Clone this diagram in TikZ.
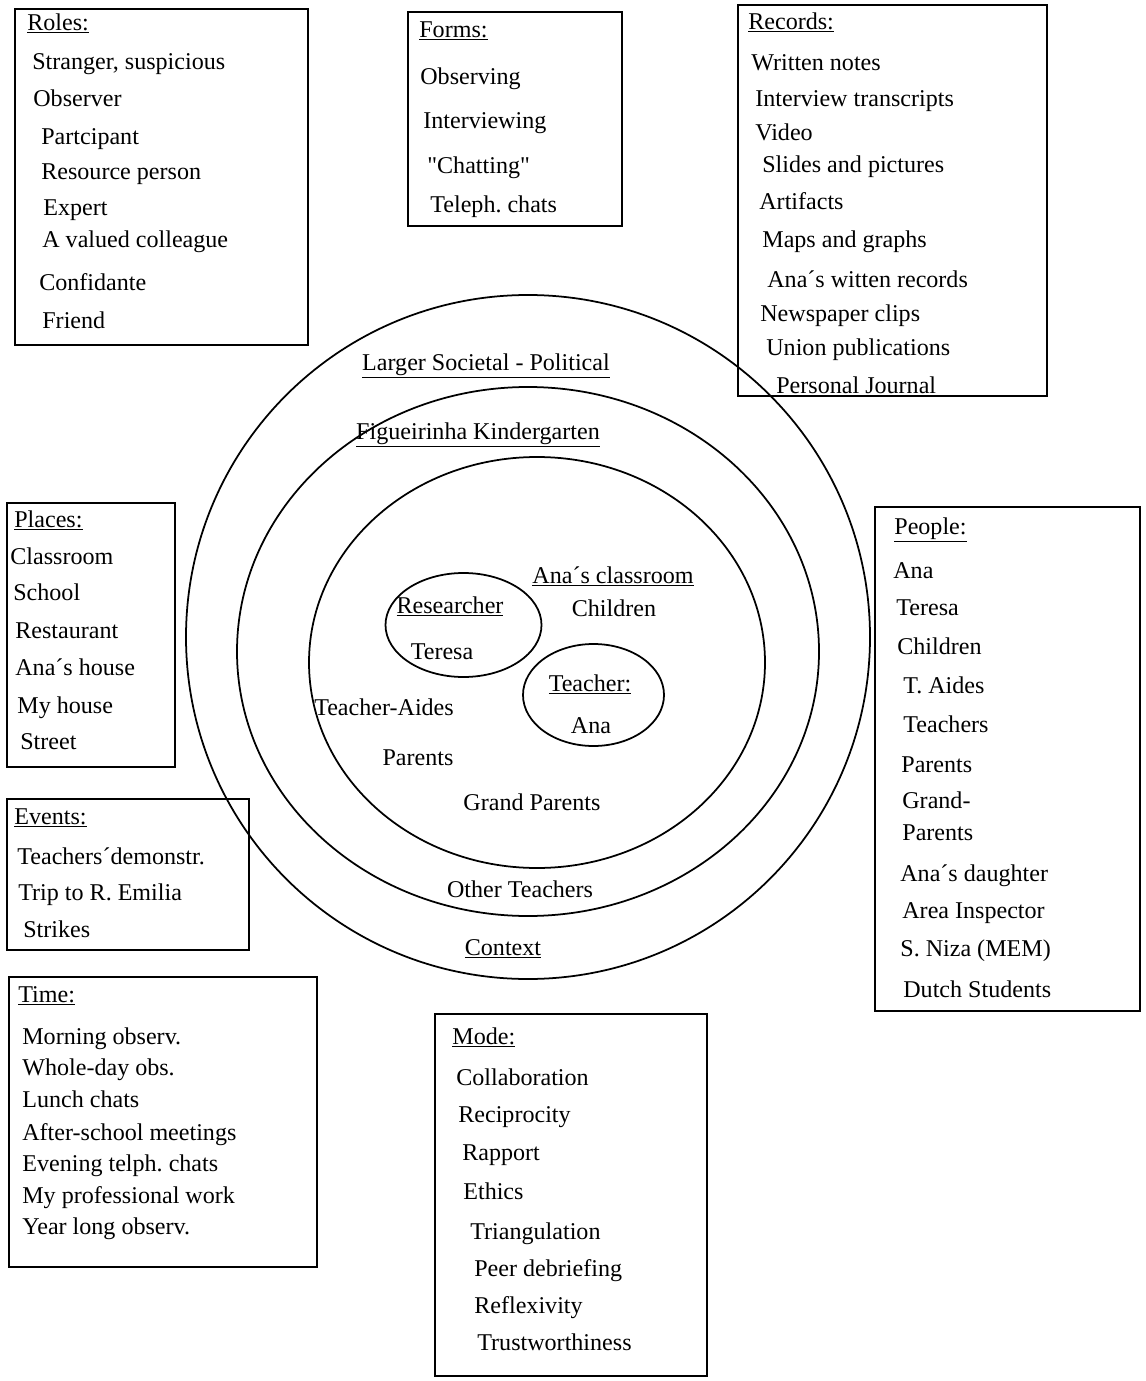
\documentclass[tikz,border=0pt]{standalone}
\usepackage{fontspec}
\setmainfont{Liberation Serif}[Ligatures=TeXOff]
\usetikzlibrary{positioning}
\frenchspacing

\tikzset{
    frame/.style={draw, line width=1pt},
    ring/.style={draw, line width=1pt},
    item/.style={anchor=mid west, inner sep=0pt, yshift=-0.06cm, font=\fontsize{13.7}{16}\selectfont},
    label/.style={anchor=mid, inner sep=0pt, yshift=-0.06cm, font=\fontsize{13.7}{16}\selectfont}
}

\begin{document}
\begin{tikzpicture}[x=0.02cm,y=-0.02cm]
    \useasboundingbox (0,0) rectangle (1145,1381);

    % the rings of context
    \draw[ring] (528,637) circle [radius=342];
    \draw[ring] (528,651.5) ellipse [x radius=291, y radius=264.5];
    \draw[ring] (537,662.5) ellipse [x radius=228, y radius=205.5];
    \draw[ring] (463.5,625) ellipse [x radius=78, y radius=52];
    \draw[ring] (593.5,695) ellipse [x radius=70.5, y radius=51];

    \node[label] (societal) at (486,363) {\underline{Larger Societal - Political}};
    \node[label] (kinder) at (478,432) {\underline{Figueirinha Kindergarten}};
    \node[label] (classroom) at (613,576) {\underline{Ana´s classroom}};
    \node[label] (children) at (614,609) {Children};
    \node[label] (researcher) at (450,606) {\underline{Researcher}};
    \node[label] (teresa) at (442,652) {Teresa};
    \node[label] (teacher) at (590,684) {\underline{Teacher:}};
    \node[label] (ana) at (591,726) {Ana};
    \node[label] (aides) at (384,708) {Teacher-Aides};
    \node[label] (parents) at (418,758) {Parents};
    \node[label] (grand) at (532,803) {Grand Parents};
    \node[label] (others) at (520,890) {Other Teachers};
    \node[label] (context) at (503,948) {\underline{Context}};

    % boxes
    \draw[frame] (15,9) rectangle (308,345);
    \foreach \x/\y/\t [count=\i] in {27/23/{\underline{Roles:}}, 32/62/{Stranger, suspicious},
        33/99/Observer, 41/137/Partcipant, 41/172/Resource person, 43/208/Expert,
        42/240/A valued colleague, 39/283/Confidante, 42/321/Friend}
        \node[item] (roles-\i) at (\x,\y) {\t};

    \draw[frame] (408,12) rectangle (622,226);
    \foreach \x/\y/\t [count=\i] in {419/30/{\underline{Forms:}}, 420/77/Observing,
        423/121/Interviewing, 427/166/"Chatting", 430/205/Teleph. chats}
        \node[item] (forms-\i) at (\x,\y) {\t};

    \draw[frame] (738,5) rectangle (1047,396);
    \foreach \x/\y/\t [count=\i] in {748/22/{\underline{Records:}}, 751/63/Written notes,
        755/99/Interview transcripts, 755/133/Video, 762/165/Slides and pictures,
        759/202/Artifacts, 762/240/Maps and graphs, 767/280/Ana´s witten records,
        760/314/Newspaper clips, 766/348/Union publications, 776/386/Personal Journal}
        \node[item] (records-\i) at (\x,\y) {\t};

    \draw[frame] (7,503) rectangle (175,767);
    \foreach \x/\y/\t [count=\i] in {14/520/{\underline{Places:}}, 10/557/Classroom,
        13/593/School, 15/631/Restaurant, 15/668/Ana´s house, 17/706/My house, 20/742/Street}
        \node[item] (places-\i) at (\x,\y) {\t};

    \draw[frame] (7,799) rectangle (249,950);
    \foreach \x/\y/\t [count=\i] in {14/817/{\underline{Events:}}, 17/857/Teachers´demonstr.,
        18/893/Trip to R. Emilia, 23/930/Strikes}
        \node[item] (events-\i) at (\x,\y) {\t};

    \draw[frame] (9,977) rectangle (317,1267);
    \foreach \x/\y/\t [count=\i] in {18/995/{\underline{Time:}}, 22/1037/Morning observ.,
        22/1068/Whole-day obs., 22/1100/Lunch chats, 22/1133/After-school meetings,
        22/1164/Evening telph. chats, 22/1196/My professional work, 22/1227/Year long observ.}
        \node[item] (time-\i) at (\x,\y) {\t};

    \draw[frame] (435,1014) rectangle (707,1376);
    \foreach \x/\y/\t [count=\i] in {452/1037/{\underline{Mode:}}, 456/1078/Collaboration,
        458/1115/Reciprocity, 462/1153/Rapport, 463/1192/Ethics, 470/1232/Triangulation,
        474/1269/Peer debriefing, 474/1306/Reflexivity, 477/1343/Trustworthiness}
        \node[item] (mode-\i) at (\x,\y) {\t};

    \draw[frame] (875,507) rectangle (1140,1011);
    \foreach \x/\y/\t [count=\i] in {894/527/{\underline{People:}}, 893/571/Ana,
        896/608/Teresa, 897/647/Children, 903/686/T. Aides, 903/725/Teachers,
        901/765/Parents, 902/801/Grand-, 902/833/Parents, 900/874/Ana´s daughter,
        902/911/Area Inspector, 900/949/S. Niza (MEM), 903/990/Dutch Students}
        \node[item] (people-\i) at (\x,\y) {\t};
\end{tikzpicture}
\end{document}
